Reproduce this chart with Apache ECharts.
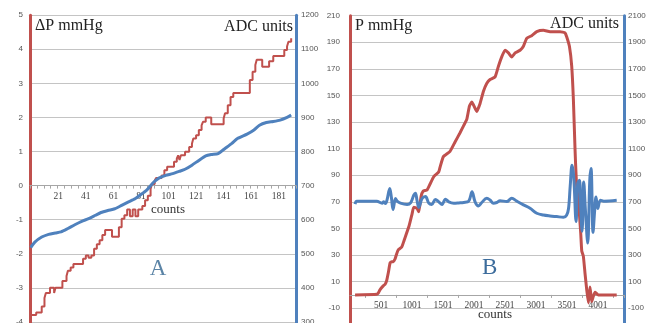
<!DOCTYPE html>
<html><head><meta charset="utf-8">
<script src="https://cdn.jsdelivr.net/npm/echarts@6/dist/echarts.min.js"></script>
<style>html,body{margin:0;padding:0;background:#fff}#c{width:657px;height:323px}</style>
</head><body><div id="c"></div>
<script>
// ---------- Panel A ----------
const nCountsA = 193;
const catsA = []; for (let i = 1; i <= nCountsA; i++) catsA.push(String(i));
const dpCountsA = [1,5,9,11,12,15,18,19,24,27,28,30,32,39,41,43,45,47,49,51,53,55,60,65,67,69,71,73,75,77,79,82,84,86,88,89,91,92,96,98,100,105,107,108,109,110,113,116,118,119,121,123,125,126,128,132,141,142,144,146,148,160,162,164,165,169,174,177,185,187,188,190];
const dpValuesA = [-3.8,-3.72,-3.55,-3.3,-3.15,-3.0,-3.15,-3.0,-2.8,-2.65,-2.5,-2.4,-2.3,-2.15,-2.05,-2.12,-2.05,-1.85,-1.72,-1.6,-1.45,-1.3,-1.5,-1.22,-0.97,-0.87,-0.7,-0.9,-0.7,-0.9,-0.7,-0.6,-0.43,-0.3,-0.1,0.05,0.15,0.22,0.3,0.45,0.55,0.7,0.79,0.89,0.75,0.89,0.99,1.13,1.23,1.38,1.48,1.63,1.77,1.87,2.0,1.8,1.97,2.12,2.36,2.6,2.72,3.1,3.34,3.54,3.69,3.49,3.65,3.8,3.98,4.08,4.22,4.32];
const adcCountsA = [1,4,9,14,19,23,28,33,38,43,48,52,57,62,67,72,77,80,85,90,94,99,104,109,113,118,123,128,132,137,142,147,151,158,163,167,172,177,182,187,190];
const adcValuesA = [518,534,549,557,561,564,574,585,595,603,613,621,627,632,642,652,662,671,686,709,722,730,735,742,748,760,774,787,791,794,809,824,838,851,863,877,885,888,892,900,907];

// ---------- Panel B ----------
const nCountsB = 4420;
const catsB = []; for (let i = 1; i <= nCountsB; i++) catsB.push(String(i));
const pCountsB = [82,432,459,486,540,567,593,620,647,674,700,727,754,781,835,873,954,1002,1029,1082,1110,1147,1179,1244,1298,1352,1432,1453,1507,1614,1695,1776,1830,1884,1927,1964,1991,2045,2099,2152,2206,2260,2341,2395,2448,2502,2556,2610,2664,2744,2798,2851,2932,3013,3120,3228,3389,3470,3497,3540,3577,3604,3631,3658,3685,3701,3723,3739,3765,3792,3819,3846,3872,3899,3926,3953,4007,4303];
const pValuesB = [0,0.5,1.5,4,7,8,11,17,24,25,25,27,31,34,36,41,52,61,66,65,62.5,74,78,79,84,89,92.5,96,104,108,115,122,127,132,142,145,143,138,144,153,159,162,164,172,179,184,182,179,182,184,187,193,195,198,199,198,198,197,194,187,172,147,109,81,71,61,46,33,29,16,4,-6,6,-5,-1,2,0,0];
const adcCountsB = [82,110,432,518,545,573,598,642,669,695,734,760,815,921,981,1029,1056,1082,1110,1163,1218,1271,1319,1379,1432,1485,1540,1594,1674,1755,1835,1916,1969,2018,2072,2126,2206,2260,2314,2368,2421,2529,2610,2690,2798,2905,3013,3120,3228,3335,3443,3494,3526,3553,3582,3610,3647,3674,3702,3723,3744,3771,3798,3835,3868,3889,3921,3948,3969,3997,4040,4094,4303];
const adcValuesB = [683,705,705,690,700,688,715,800,730,643,725,705,690,680,695,750,765,710,658,725,740,690,680,718,700,680,720,700,690,692,695,705,775,700,669,695,727,714,690,695,709,702,727,705,677,652,614,601,594,589,584,600,650,820,975,888,552,838,862,640,478,850,638,390,860,950,470,640,737,650,712,705,712];

// axis ranges
const yRangeA = [-5, 5, 1], yRangeA2 = [200, 1200, 100];
const yRangeB = [-30, 210, 20], yRangeB2 = [-300, 2100, 200];

const RED = '#c0504d', BLUE = '#4f81bd', GRID = '#c4c4c4';
const pairs = (cs, vs) => cs.map((c, i) => [String(c), vs[i]]);

const gridA = { left: 30, top: 15.2, width: 266, height: 340.8 };
const gridB = { left: 350, top: 15.7, width: 274, height: 319.1 };
// the category axis sits on the zero line of the left value axis
const zeroOffset = (g, r) => -g.height * (0 - r[0]) / (r[1] - r[0]);

function yAxis(grid, pos, r, color, margin, split) {
  return {
    type: 'value', gridIndex: grid, position: pos, min: r[0], max: r[1], interval: r[2],
    axisLine: { show: true, onZero: false, lineStyle: { color: color, width: 3 } },
    axisTick: { show: false },
    axisLabel: { margin: margin, fontFamily: 'Liberation Sans', fontSize: 8, color: '#555', formatter: (v) => String(v) },
    splitLine: { show: split, lineStyle: { color: GRID, width: 1 } }
  };
}
function xAxis(grid, cats, labelEvery, tickEvery, tickPhase, offset) {
  return {
    type: 'category', gridIndex: grid, data: cats, boundaryGap: true, position: 'bottom', offset: offset,
    axisLine: { onZero: false, lineStyle: { color: '#a6a6a6', width: 1 } },
    axisTick: { show: true, length: 3, interval: (i) => i % tickEvery === tickPhase, lineStyle: { color: '#a6a6a6' } },
    axisLabel: { interval: (i) => i > 0 && i % labelEvery === 0, margin: 6, fontFamily: 'Liberation Serif', fontSize: 9.5, color: '#444' },
    splitLine: { show: false }
  };
}
const txt = (x, y, t, size, fill, align) => ({
  type: 'text', x: x, y: y, silent: true,
  style: { text: t, font: size + 'px "Liberation Serif"', fill: fill, align: align, verticalAlign: 'middle' }
});

const chart = echarts.init(document.getElementById('c'), null, { renderer: 'canvas' });
chart.setOption({
  animation: false,
  backgroundColor: '#fff',
  grid: [
    Object.assign({ containLabel: false, outerBoundsMode: 'none' }, gridA),
    Object.assign({ containLabel: false, outerBoundsMode: 'none' }, gridB)
  ],
  xAxis: [
    xAxis(0, catsA, 20, 5, 0, zeroOffset(gridA, yRangeA)),
    xAxis(1, catsB, 500, 500, 250, zeroOffset(gridB, yRangeB))
  ],
  yAxis: [
    yAxis(0, 'left', yRangeA, RED, 7, true),
    yAxis(0, 'right', yRangeA2, BLUE, 5, false),
    yAxis(1, 'left', yRangeB, RED, 10, true),
    yAxis(1, 'right', yRangeB2, BLUE, 4, false)
  ],
  series: [
    { type: 'line', xAxisIndex: 0, yAxisIndex: 0, step: 'end', showSymbol: false,
      lineStyle: { color: RED, width: 2 }, data: pairs(dpCountsA, dpValuesA) },
    { type: 'line', xAxisIndex: 0, yAxisIndex: 1, smooth: 0.2, showSymbol: false,
      lineStyle: { color: BLUE, width: 3 }, data: pairs(adcCountsA, adcValuesA) },
    { type: 'line', xAxisIndex: 1, yAxisIndex: 2, smooth: 0.15, showSymbol: false,
      lineStyle: { color: RED, width: 3 }, data: pairs(pCountsB, pValuesB) },
    { type: 'line', xAxisIndex: 1, yAxisIndex: 3, smooth: 0.35, showSymbol: false,
      lineStyle: { color: BLUE, width: 3 }, data: pairs(adcCountsB, adcValuesB) }
  ],
  graphic: [
    txt(35, 26.2, 'ΔP mmHg', 16, '#222', 'left'),
    txt(293, 26.3, 'ADC units', 16, '#222', 'right'),
    txt(355, 25.3, 'P mmHg', 16, '#222', 'left'),
    txt(619, 23.5, 'ADC units', 16, '#222', 'right'),
    txt(168, 209.6, 'counts', 13, '#333', 'center'),
    txt(495, 315, 'counts', 13, '#333', 'center'),
    txt(158, 269, 'A', 23, '#5b84a6', 'center'),
    txt(489.7, 267.5, 'B', 23, '#3c6c9c', 'center')
  ]
});
</script>
</body></html>
